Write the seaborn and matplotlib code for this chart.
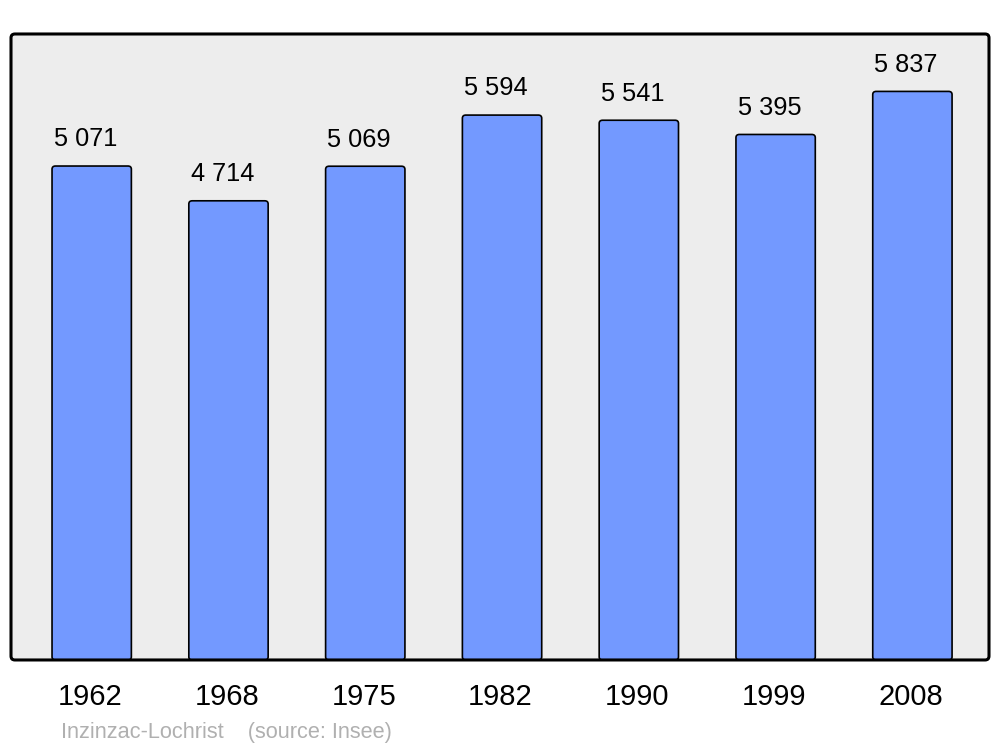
import matplotlib
matplotlib.use("Agg")
import matplotlib.pyplot as plt
from matplotlib.patches import FancyBboxPatch
from matplotlib.transforms import ScaledTranslation
import seaborn as sns
import pandas as pd

years = ["1962", "1968", "1975", "1982", "1990", "1999", "2008"]
population = [5071, 4714, 5069, 5594, 5541, 5395, 5837]
footer = "Inzinzac-Lochrist    (source: Insee)"

sns.set_theme(style="white")
plt.rcParams['font.family'] = ['Liberation Sans', 'DejaVu Sans']

df = pd.DataFrame({"year": years, "pop": population})

fig = plt.figure(figsize=(10, 7.47), dpi=100)
ax = fig.add_axes([0.011, 0.1165, 0.978, 0.838])
ax.set_facecolor("#EDEDED")

sns.barplot(data=df, x="year", y="pop", ax=ax, color="#7399FF", width=0.58,
            edgecolor="black", linewidth=1.2, saturation=1)

ax.set_ylim(0, max(population) * 1.101)
ax.set_xlim(-0.59, len(years) - 1 + 0.56)

# rounded bars
for p in list(ax.patches):
    x, y = p.get_x(), p.get_y()
    w, h = p.get_width(), p.get_height()
    fb = FancyBboxPatch((x, y), w, h, boxstyle="round,pad=0,rounding_size=0.025",
                        mutation_aspect=1300, facecolor=p.get_facecolor(),
                        edgecolor="black", linewidth=1.2, zorder=2)
    p.remove()
    ax.add_patch(fb)

for i, v in enumerate(population):
    ax.annotate(f"{v:,}".replace(",", " "), (i, v), xytext=(-4.5, 10.5),
                textcoords="offset points", ha="center", va="bottom",
                fontsize=18.3, color="black")

ax.set_xlabel("")
ax.set_ylabel("")
ax.set_yticks([])
ax.tick_params(axis="x", length=0, pad=16.5, labelsize=21, labelcolor="black")
shift = ScaledTranslation(-1.5 / 100, 0, fig.dpi_scale_trans)
for lbl in ax.get_xticklabels():
    lbl.set_transform(lbl.get_transform() + shift)
for s in ax.spines.values():
    s.set_visible(False)

frame = FancyBboxPatch((0, 0), 1, 1, boxstyle="round,pad=0,rounding_size=0.004",
                       mutation_aspect=1.56, transform=ax.transAxes,
                       facecolor="none", edgecolor="black", linewidth=2.2,
                       clip_on=False, zorder=5)
ax.add_patch(frame)

fig.text(0.061, 1 - 738 / 747, footer, fontsize=15.7, color="#B0B0B0",
         ha="left", va="baseline")

fig.savefig("out.png", dpi=100)
